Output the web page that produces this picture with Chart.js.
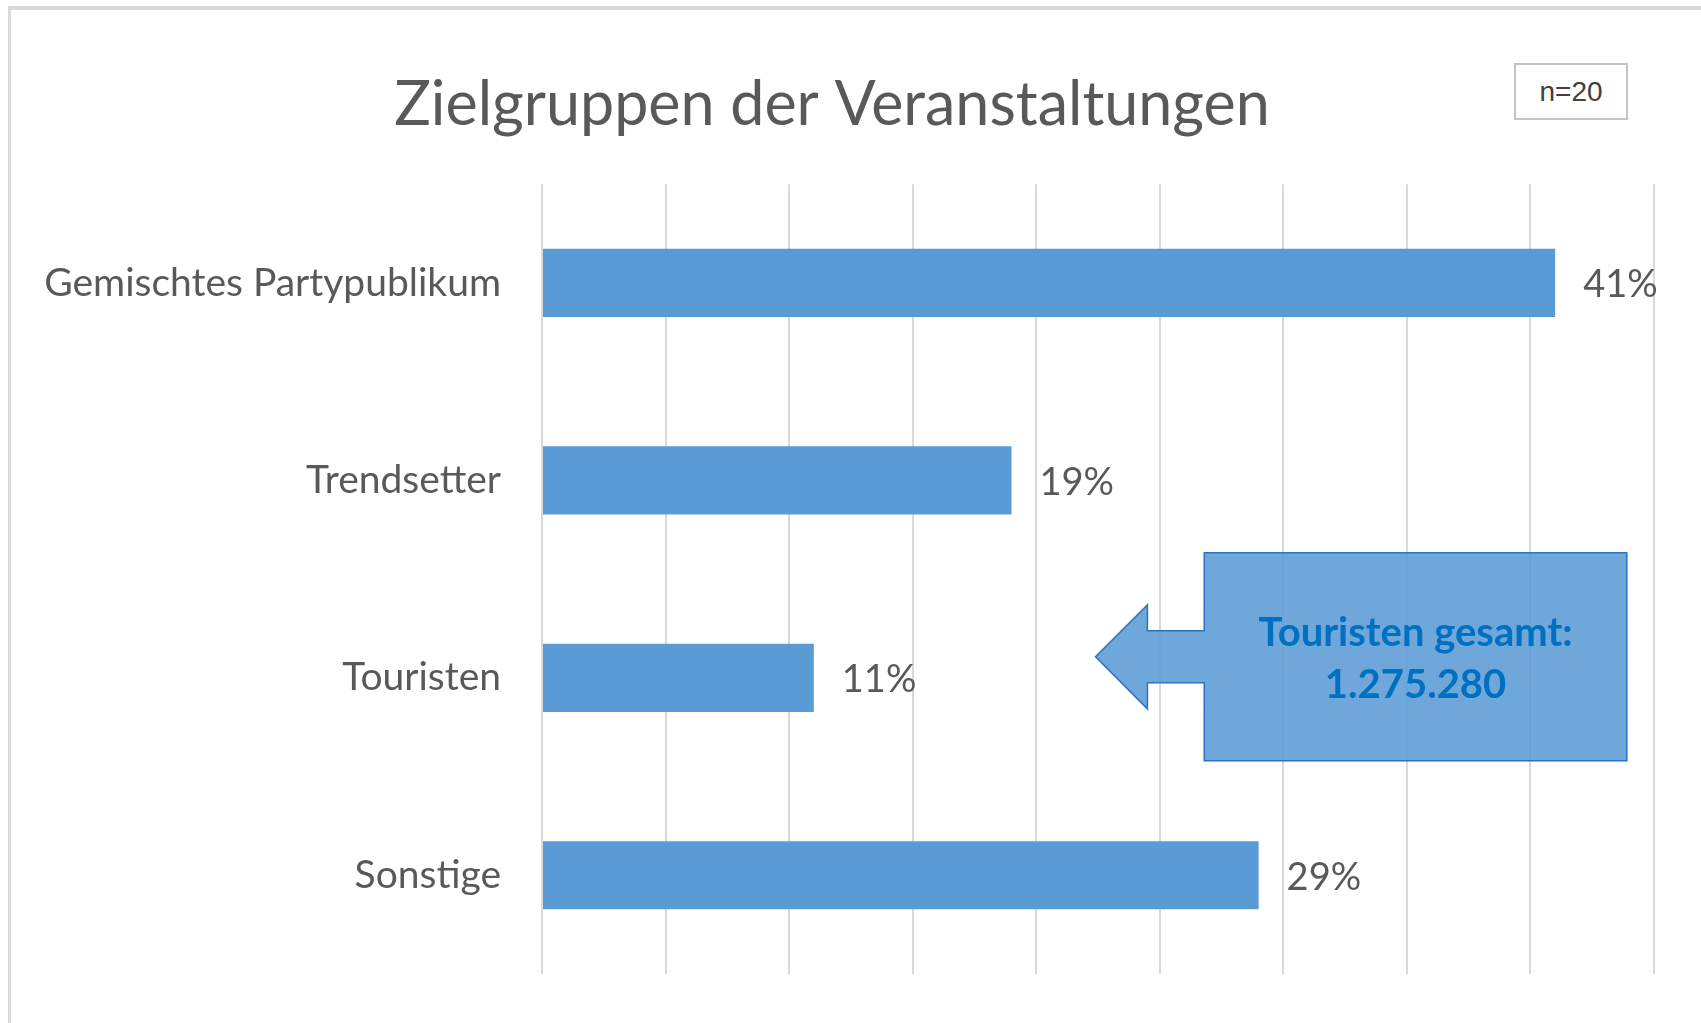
<!DOCTYPE html>
<html>
<head>
<meta charset="utf-8">
<script src="https://cdn.jsdelivr.net/npm/chart.js@4"></script>
<style>
  body { margin: 0; background: #fff; }
  #wrap { position: relative; width: 1701px; height: 1023px; overflow: hidden; }
  #frame {
    position: absolute; left: 8px; top: 6px; width: 1720px; height: 1014px;
    border-left: 3px solid #d9d9d9; border-top: 4px solid #d9d9d9; border-bottom: 3px solid #d9d9d9;
  }
  #nbox {
    position: absolute; left: 1514px; top: 63px; width: 110px; height: 53px;
    border: 2px solid #c4c4c4; background: #fff;
    font-family: "Liberation Sans", Arial, sans-serif; font-size: 28px; color: #404040;
    display: flex; align-items: center; justify-content: center;
  }
  canvas { position: absolute; left: 0; top: 0; }
</style>
</head>
<body>
<div id="wrap">
  <div id="frame"></div>
  <canvas id="plot" width="1701" height="1023"></canvas>
  <div id="nbox">n=20</div>
</div>
<script>
// Zielgruppen der Veranstaltungen
var categories = ['Gemischtes Partypublikum', 'Trendsetter', 'Touristen', 'Sonstige'];
var shares = [41, 19, 11, 29];
var xTicks = [0, 5, 10, 15, 20, 25, 30, 35, 40, 45];
var calloutLines = ['Touristen gesamt:', '1.275.280'];

var textColor = '#595959';
var barColor = '#5B9BD5';

// Percent labels right of each bar
var valueLabels = {
    id: 'valueLabels',
    afterDatasetsDraw: function(chart) {
        var ctx = chart.ctx;
        var meta = chart.getDatasetMeta(0);
        ctx.save();
        ctx.font = '38px Lato';
        ctx.fillStyle = textColor;
        ctx.textAlign = 'left';
        ctx.textBaseline = 'middle';
        meta.data.forEach(function(bar, i) {
            ctx.fillText(shares[i] + '%', bar.x + 28, bar.y + 2);
        });
        ctx.restore();
    }
};

// Arrow callout pointing at the Touristen bar
var callout = {
    id: 'callout',
    afterDraw: function(chart) {
        var x = chart.scales.x, y = chart.scales.y, ctx = chart.ctx;
        var cy = y.getPixelForValue(2) - 21;
        var tip = x.getPixelForValue(22.4);
        var head = x.getPixelForValue(24.5);
        var left = x.getPixelForValue(26.8);
        var right = x.getPixelForValue(43.9);
        var top = cy - 104, bottom = cy + 104;

        ctx.save();
        ctx.beginPath();
        ctx.moveTo(tip, cy);
        ctx.lineTo(head, cy - 52);
        ctx.lineTo(head, cy - 26);
        ctx.lineTo(left, cy - 26);
        ctx.lineTo(left, top);
        ctx.lineTo(right, top);
        ctx.lineTo(right, bottom);
        ctx.lineTo(left, bottom);
        ctx.lineTo(left, cy + 26);
        ctx.lineTo(head, cy + 26);
        ctx.lineTo(head, cy + 52);
        ctx.closePath();
        ctx.fillStyle = 'rgba(91, 155, 213, 0.88)';
        ctx.fill();
        ctx.lineWidth = 1.5;
        ctx.strokeStyle = '#2873c2';
        ctx.stroke();

        ctx.font = 'bold 40px Lato';
        ctx.fillStyle = '#0070C0';
        ctx.textAlign = 'center';
        ctx.textBaseline = 'middle';
        var mid = (left + right) / 2;
        ctx.fillText(calloutLines[0], mid, cy - 24);
        ctx.fillText(calloutLines[1], mid, cy + 28);
        ctx.restore();
    }
};

new Chart(document.getElementById('plot'), {
    type: 'bar',
    data: {
        labels: categories,
        datasets: [{
            data: shares,
            backgroundColor: barColor,
            borderWidth: 0,
            categoryPercentage: 1,
            barPercentage: 0.345
        }]
    },
    options: {
        indexAxis: 'y',
        responsive: false,
        animation: false,
        layout: { padding: { top: 0, right: 47, bottom: 49, left: 10 } },
        plugins: {
            legend: { display: false },
            tooltip: { enabled: false },
            title: {
                display: true,
                text: 'Zielgruppen der Veranstaltungen',
                color: textColor,
                font: { family: 'Lato', size: 61, weight: 'normal' },
                padding: { top: 69, bottom: 42 }
            }
        },
        scales: {
            x: {
                min: 0,
                max: 45,
                afterBuildTicks: function(scale) {
                    scale.ticks = xTicks.map(function(v) { return { value: v }; });
                },
                ticks: { display: false },
                grid: { color: '#d9d9d9', lineWidth: 2, drawTicks: false },
                border: { display: false }
            },
            y: {
                afterFit: function(scale) {
                    scale.width = 532;
                    scale.paddingTop = 0;
                    scale.paddingBottom = 0;
                },
                ticks: {
                    color: textColor,
                    font: { family: 'Lato', size: 39 },
                    padding: 41
                },
                grid: { display: false, drawTicks: false },
                border: { display: false }
            }
        }
    },
    plugins: [valueLabels, callout]
});
</script>
</body>
</html>
